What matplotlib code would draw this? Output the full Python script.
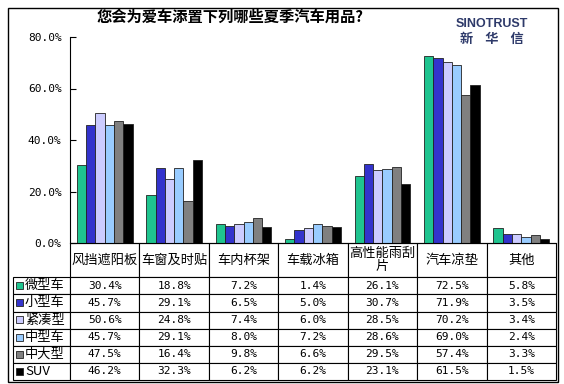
'''
Summer car accessories survey chart with data table below
'''

import matplotlib
matplotlib.use('Agg')
import matplotlib.pyplot as plt
from matplotlib.patches import Rectangle
import numpy as np

plt.rcParams['font.family'] = ['Noto Sans CJK SC', 'DejaVu Sans']

categories = ['风挡遮阳板', '车窗及时贴', '车内杯架', '车载冰箱', '高性能雨刮\n片', '汽车凉垫', '其他']
series_names = ['微型车', '小型车', '紧凑型', '中型车', '中大型', 'SUV']
colors = ['#1fc48f', '#3333cc', '#ccccff', '#99ccff', '#808080', '#000000']

mini = [30.4, 18.8, 7.2, 1.4, 26.1, 72.5, 5.8]
small = [45.7, 29.1, 6.5, 5.0, 30.7, 71.9, 3.5]
compact = [50.6, 24.8, 7.4, 6.0, 28.5, 70.2, 3.4]
midsize = [45.7, 29.1, 8.0, 7.2, 28.6, 69.0, 2.4]
large = [47.5, 16.4, 9.8, 6.6, 29.5, 57.4, 3.3]
suv = [46.2, 32.3, 6.2, 6.2, 23.1, 61.5, 1.5]
values = [mini, small, compact, midsize, large, suv]

yticks = [0, 20, 40, 60, 80]

W, H = 564, 384
fig = plt.figure(figsize=(W / 100, H / 100), dpi=100)

# plot area in pixels: x 70..556, y 37..243
ax = fig.add_axes([70 / W, 1 - 243 / H, 486 / W, 206 / H])

x = np.arange(len(categories))
bw = 0.134
for i, (name, vals) in enumerate(zip(series_names, values)):
    ax.bar(x + (i - 2.5) * bw, vals, bw, color=colors[i],
           edgecolor='#222222', linewidth=0.6, label=name)

ax.set_xlim(-0.5, len(categories) - 0.5)
ax.set_ylim(0, 80)
ax.set_yticks(yticks)
ax.set_yticklabels(['%.1f%%' % v for v in yticks], family='DejaVu Sans Mono', fontsize=8)
ax.set_xticks([])
ax.tick_params(axis='y', direction='in', length=4, width=0.8, pad=6)
ax.spines['top'].set_visible(False)
ax.spines['right'].set_visible(False)
ax.spines['left'].set_linewidth(0.8)
ax.spines['bottom'].set_linewidth(0.8)

# data table below the chart
cell_text = [[''] + categories]
for name, vals in zip(series_names, values):
    cell_text.append([name] + ['%.1f%%' % v for v in vals])

tbl_left = (13 - 70) / 486
tbl_h = (380 - 243) / 206
tbl = ax.table(cellText=cell_text, cellLoc='center',
               bbox=[tbl_left, -tbl_h, 1 - tbl_left, tbl_h])
tbl.auto_set_font_size(False)
for (r, c), cell in tbl.get_celld().items():
    cell.set_width(57 if c == 0 else 69.5)
    cell.set_height(2.0 if r == 0 else 1.0)
    cell.set_linewidth(0.8)
    txt = cell.get_text()
    if r == 0:
        txt.set_fontsize(9.5)
        txt.set_linespacing(0.95)
        if c == 0:
            cell.visible_edges = ''
    elif c == 0:
        txt.set_fontsize(9.5)
        cell._loc = 'left'
        cell.PAD = 0.21
        txt.set_horizontalalignment('left')
    else:
        txt.set_family('DejaVu Sans Mono')
        txt.set_fontsize(8)

# coloured keys in the row label column
row_h = (380 - 277) / 6
for i, col in enumerate(colors):
    yc = 277 + row_h * (i + 0.5)
    ax.add_patch(Rectangle(((16 - 70) / 486, -(yc + 3.5 - 243) / 206), 7 / 486, 7 / 206,
                           transform=ax.transAxes, clip_on=False,
                           facecolor=col, edgecolor='#222222', linewidth=0.6))

fig.text(230 / W, 1 - 17 / H, '您会为爱车添置下列哪些夏季汽车用品?',
         ha='center', va='center', fontsize=11, fontweight='bold')
fig.text(492 / W, 1 - 24 / H, 'SINOTRUST', ha='center', va='center',
         fontsize=9, fontweight='bold', color='#2e3a6a', family='Liberation Sans')
fig.text(492 / W, 1 - 39 / H, '新    华    信', ha='center', va='center',
         fontsize=9.5, fontweight='bold', color='#2e3a6a')

# outer frame
fig.add_artist(Rectangle((8 / W, 1 - 382 / H), 550 / W, 374 / H,
                         transform=fig.transFigure, fill=False,
                         edgecolor='black', linewidth=1))

plt.savefig('out.png', dpi=100)
